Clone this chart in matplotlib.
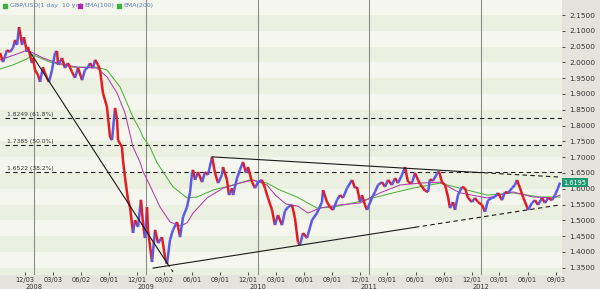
import matplotlib
matplotlib.use('Agg')
import matplotlib.pyplot as plt
import matplotlib.dates as mdates
from matplotlib.collections import LineCollection
import numpy as np
from datetime import datetime

# GBP/USD (decimal year, price)
price_t = [2007.696, 2007.723, 2007.758, 2007.785, 2007.812, 2007.830, 2007.848, 2007.866, 2007.893, 2007.910,
           2007.937, 2007.946, 2007.982, 2007.991, 2008.009, 2008.036, 2008.054, 2008.080, 2008.098, 2008.116,
           2008.134, 2008.161, 2008.188, 2008.206, 2008.215, 2008.251, 2008.277, 2008.304, 2008.340, 2008.367,
           2008.394, 2008.430, 2008.456, 2008.483, 2008.501, 2008.528, 2008.546, 2008.573, 2008.591, 2008.617,
           2008.653, 2008.680, 2008.698, 2008.725, 2008.743, 2008.752, 2008.787, 2008.796, 2008.814, 2008.841,
           2008.859, 2008.886, 2008.904, 2008.931, 2008.957, 2008.975, 2008.993, 2009.011, 2009.020, 2009.056,
           2009.083, 2009.110, 2009.145, 2009.172, 2009.190, 2009.217, 2009.244, 2009.280, 2009.307, 2009.334,
           2009.369, 2009.396, 2009.414, 2009.423, 2009.441, 2009.468, 2009.504, 2009.530, 2009.557, 2009.593,
           2009.620, 2009.647, 2009.682, 2009.691, 2009.727, 2009.745, 2009.772, 2009.781, 2009.817, 2009.843,
           2009.870, 2009.897, 2009.915, 2009.951, 2009.978, 2010.004, 2010.040, 2010.067, 2010.094, 2010.130,
           2010.156, 2010.183, 2010.219, 2010.246, 2010.273, 2010.309, 2010.335, 2010.362, 2010.380, 2010.407,
           2010.443, 2010.488, 2010.532, 2010.577, 2010.586, 2010.622, 2010.649, 2010.676, 2010.711, 2010.738,
           2010.765, 2010.801, 2010.846, 2010.872, 2010.890, 2010.917, 2010.935, 2010.962, 2010.980, 2011.024,
           2011.051, 2011.078, 2011.114, 2011.141, 2011.168, 2011.204, 2011.230, 2011.257, 2011.293, 2011.320,
           2011.347, 2011.382, 2011.409, 2011.436, 2011.454, 2011.499, 2011.526, 2011.543, 2011.570, 2011.606,
           2011.624, 2011.651, 2011.678, 2011.705, 2011.722, 2011.749, 2011.767, 2011.794, 2011.830, 2011.857,
           2011.884, 2011.919, 2011.946, 2011.973, 2012.009, 2012.036, 2012.063, 2012.098, 2012.125, 2012.152,
           2012.188, 2012.215, 2012.242, 2012.277, 2012.304, 2012.322, 2012.349, 2012.376, 2012.412, 2012.421,
           2012.456, 2012.483, 2012.510, 2012.546, 2012.573, 2012.600, 2012.635, 2012.662, 2012.689, 2012.707]
price_v = [2.030, 2.001, 2.039, 2.033, 2.046, 2.071, 2.055, 2.112, 2.055, 2.080,
           2.033, 2.049, 1.998, 2.014, 1.976, 1.960, 1.938, 1.985, 1.966, 1.951,
           1.938, 1.976, 2.030, 2.036, 1.992, 2.014, 1.982, 1.998, 1.970, 1.951,
           1.982, 1.944, 1.976, 1.985, 1.998, 1.982, 2.008, 1.992, 1.976, 1.903,
           1.859, 1.764, 1.754, 1.856, 1.818, 1.754, 1.732, 1.691, 1.637, 1.565,
           1.542, 1.460, 1.501, 1.479, 1.565, 1.492, 1.444, 1.542, 1.470, 1.368,
           1.470, 1.428, 1.447, 1.384, 1.362, 1.438, 1.470, 1.495, 1.447, 1.511,
           1.542, 1.587, 1.650, 1.660, 1.628, 1.653, 1.621, 1.653, 1.644, 1.701,
           1.650, 1.618, 1.644, 1.669, 1.628, 1.580, 1.602, 1.580, 1.634, 1.660,
           1.685, 1.650, 1.669, 1.621, 1.602, 1.621, 1.628, 1.602, 1.571, 1.533,
           1.485, 1.517, 1.485, 1.530, 1.542, 1.549, 1.507, 1.431, 1.422, 1.460,
           1.444, 1.501, 1.523, 1.558, 1.596, 1.558, 1.542, 1.533, 1.564, 1.580,
           1.571, 1.602, 1.628, 1.602, 1.606, 1.558, 1.580, 1.549, 1.533, 1.571,
           1.590, 1.612, 1.621, 1.606, 1.628, 1.612, 1.634, 1.618, 1.644, 1.669,
           1.621, 1.618, 1.650, 1.628, 1.615, 1.594, 1.590, 1.630, 1.625, 1.648,
           1.655, 1.621, 1.612, 1.574, 1.539, 1.558, 1.533, 1.580, 1.606, 1.602,
           1.571, 1.558, 1.571, 1.558, 1.549, 1.527, 1.564, 1.571, 1.574, 1.587,
           1.564, 1.590, 1.587, 1.602, 1.612, 1.628, 1.602, 1.574, 1.542, 1.533,
           1.555, 1.564, 1.549, 1.571, 1.555, 1.571, 1.564, 1.580, 1.602, 1.6195]

ema100_t = [2007.696, 2007.875, 2007.937, 2007.991, 2008.080, 2008.206, 2008.385, 2008.564, 2008.653, 2008.743,
            2008.814, 2008.886, 2008.948, 2008.975, 2009.038, 2009.128, 2009.217, 2009.307, 2009.369, 2009.423,
            2009.548, 2009.691, 2009.843, 2009.960, 2010.085, 2010.165, 2010.254, 2010.362, 2010.452, 2010.559,
            2010.738, 2010.917, 2011.096, 2011.275, 2011.454, 2011.633, 2011.812, 2012.054, 2012.286, 2012.465,
            2012.644, 2012.707]
ema100_v = [2.008, 2.030, 2.039, 2.030, 2.014, 1.998, 1.985, 1.982, 1.954, 1.903,
            1.840, 1.732, 1.685, 1.655, 1.610, 1.542, 1.495, 1.482, 1.492, 1.523,
            1.571, 1.602, 1.618, 1.628, 1.612, 1.578, 1.552, 1.545, 1.523, 1.539,
            1.549, 1.555, 1.587, 1.612, 1.618, 1.621, 1.587, 1.571, 1.590, 1.574,
            1.571, 1.580]

ema200_t = [2007.696, 2007.812, 2007.937, 2007.991, 2008.143, 2008.349, 2008.564, 2008.653, 2008.770, 2008.886,
            2008.948, 2008.975, 2009.038, 2009.101, 2009.244, 2009.369, 2009.459, 2009.602, 2009.781, 2009.933,
            2010.085, 2010.201, 2010.353, 2010.532, 2010.676, 2010.855, 2011.033, 2011.212, 2011.391, 2011.543,
            2011.633, 2011.812, 2012.054, 2012.286, 2012.528, 2012.707]
ema200_v = [1.979, 1.992, 2.011, 2.024, 2.001, 1.985, 1.985, 1.976, 1.922, 1.827,
            1.786, 1.764, 1.732, 1.682, 1.606, 1.571, 1.574, 1.596, 1.612, 1.628,
            1.618, 1.596, 1.574, 1.539, 1.542, 1.555, 1.571, 1.587, 1.602, 1.612,
            1.618, 1.602, 1.580, 1.587, 1.574, 1.574]

# trend lines: (start, end of solid part, end of dashed part)
trend_t = [[2007.964, 2009.190, 2009.244],
           [2009.065, 2011.409, 2012.707],
           [2009.593, 2011.955, 2012.707]]
trend_v = [[2.033, 1.365, 1.337],
           [1.349, 1.478, 1.549],
           [1.701, 1.652, 1.637]]

fib_levels = [1.8249, 1.7385, 1.6522]
fib_labels = ['1.8249 (61.8%)', '1.7385 (50.0%)', '1.6522 (38.2%)']

tick_dates = ['2007-12-03', '2008-03-03', '2008-06-02', '2008-09-01', '2008-12-01',
              '2009-03-02', '2009-06-01', '2009-09-01', '2009-12-01', '2010-03-01',
              '2010-06-01', '2010-09-01', '2010-12-01', '2011-03-01', '2011-06-01',
              '2011-09-01', '2011-12-01', '2012-03-01', '2012-06-01', '2012-09-03']
years = [2008, 2009, 2010, 2011, 2012]
last_price = 1.6195


def yr(t):
    return mdates.date2num(datetime(2008, 1, 1)) + (np.asarray(t) - 2008) * 365.25


fig = plt.figure(figsize=(6, 2.89), dpi=100, facecolor='#e5e3de')
ax = fig.add_axes([0, 14 / 289, 562 / 600, 275 / 289])
ax.set_facecolor('#f5f7ee')

# horizontal stripes
edges = np.arange(1.30, 2.25, 0.05)
for i in range(len(edges) - 1):
    if i % 2 == 0:
        ax.axhspan(edges[i], edges[i + 1], color='#ecf0e0', lw=0, zorder=0)

for y in years:
    ax.axvline(yr(y), color='#8c8c8c', lw=0.8, zorder=1)

for lvl, lab in zip(fib_levels, fib_labels):
    ax.axhline(lvl, xmin=0.009, color='#222222', lw=0.8, ls=(0, (4, 3)), zorder=2)
    ax.text(0.012, lvl + 0.003, lab, transform=ax.get_yaxis_transform(),
            fontsize=4.3, color='#333333', va='bottom', ha='left', zorder=3)

ax.plot(yr(ema200_t), ema200_v, color='#4cb33c', lw=0.75, zorder=3)
ax.plot(yr(ema100_t), ema100_v, color='#b03cb0', lw=0.75, zorder=3)

xs = yr(price_t)
pts = np.column_stack([xs, price_v]).reshape(-1, 1, 2)
segs = np.concatenate([pts[:-1], pts[1:]], axis=1)
cols = ['#5a5ae8' if price_v[i + 1] >= price_v[i] else '#e31c24' for i in range(len(price_v) - 1)]
ax.add_collection(LineCollection(segs, colors=cols, linewidths=1.8, zorder=4))

for tt, vv in zip(trend_t, trend_v):
    ax.plot(yr(tt[:2]), vv[:2], color='#1a1a1a', lw=0.8, zorder=5)
    ax.plot(yr(tt[1:]), vv[1:], color='#1a1a1a', lw=0.8, ls=(0, (4, 3)), zorder=5)

ax.set_xlim(yr(2007.6957), yr(2007.6957 + 562 * 0.0089485))
ax.set_ylim(1.3271, 2.1975)

ax.yaxis.tick_right()
ax.set_yticks(np.arange(1.35, 2.1501, 0.05))
ax.set_yticklabels(['%.4f' % v for v in np.arange(1.35, 2.1501, 0.05)])
ax.tick_params(axis='y', direction='out', length=2.5, width=0.6, pad=3,
               labelsize=5.3, colors='#333333')

ax.set_xticks([mdates.datestr2num(d) for d in tick_dates])
ax.set_xticklabels([d[5:7] + '/' + d[8:10] for d in tick_dates])
ax.tick_params(axis='x', direction='in', length=2.5, width=0.6, pad=1.5,
               labelsize=4.8, colors='#333333')

for y in years:
    ax.text(yr(y), -0.045, str(y), transform=ax.get_xaxis_transform(),
            fontsize=4.8, color='#333333', ha='center', va='center')

for s in ax.spines.values():
    s.set_visible(False)

# last price tag
ax.text(1.003, last_price, '%.4f' % last_price, transform=ax.get_yaxis_transform(),
        fontsize=4.8, color='white', va='center', ha='left', zorder=6, clip_on=False,
        bbox=dict(boxstyle='square,pad=0.25', fc='#1e9a72', ec='none'))

# legend
leg = [('GBP/USD(1 day  10 yr.)', '#3fb03f', 0.009), ('EMA(100)', '#b02ab0', 0.143),
       ('EMA(200)', '#3fb03f', 0.212)]
for lab, c, xpos in leg:
    ax.scatter([xpos], [0.979], marker='s', s=5, color=c, transform=ax.transAxes,
               zorder=7, clip_on=False)
    ax.text(xpos + 0.008, 0.979, lab, transform=ax.transAxes, fontsize=4.5,
            color='#5b84b8', va='center', ha='left', zorder=7)

fig.savefig('out.png', dpi=100, facecolor=fig.get_facecolor())
